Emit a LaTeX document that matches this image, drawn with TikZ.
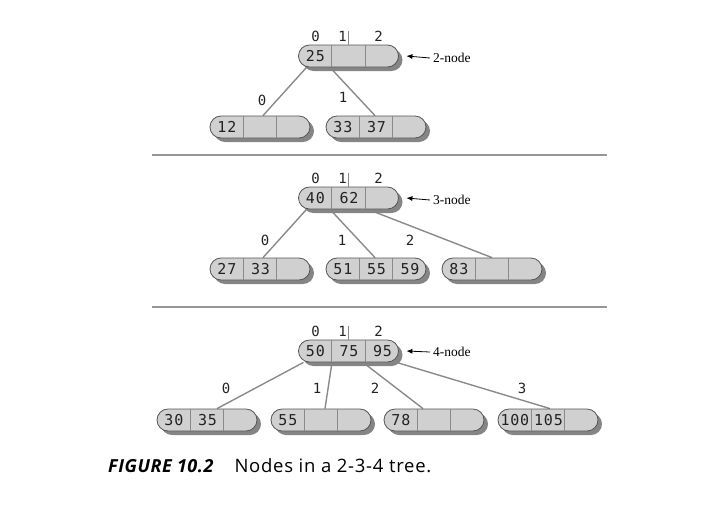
\documentclass[tikz,border=0pt]{standalone}
\usepackage{fontspec}
\setmainfont{Liberation Serif}
\newfontfamily\cellfont[LetterSpace=5]{DejaVu Sans Mono}
\newfontfamily\capfont[LetterSpace=4]{Open Sans}
\newfontfamily\capboldfont[LetterSpace=3]{Open Sans}
\usetikzlibrary{calc,shadows,backgrounds,arrows.meta}
\definecolor{nodefill}{HTML}{D0D0D0}
\definecolor{nodeline}{HTML}{555555}
\definecolor{shadowc}{HTML}{858585}
\definecolor{edgec}{HTML}{8A8A8A}
\definecolor{txt}{HTML}{222222}
\tikzset{
  tnode/.style={draw=nodeline, line width=0.8pt, fill=nodefill, rounded corners=11pt,
    minimum width=100pt, minimum height=22pt, inner sep=0pt,
    drop shadow={shadow xshift=4pt, shadow yshift=-4pt, fill=shadowc, opacity=1}},
  divider/.style={draw=edgec, line width=0.8pt},
  celltext/.style={font=\cellfont\fontsize{15}{17}\selectfont, text=txt, inner sep=0pt},
  idxtext/.style={font=\cellfont\fontsize{14}{16}\selectfont, text=txt, inner sep=0pt},
  edge/.style={draw=edgec, line width=1.4pt},
  rule/.style={draw=edgec!90, line width=1.5pt},
  kindlabel/.style={font=\fontsize{13.5}{15}\selectfont, text=black, anchor=west, inner sep=3pt},
  kindarrow/.style={draw=black, line width=0.8pt, -{Latex[length=6pt,width=5pt]}},
}
\newcommand\ttnode[6]{%
  \node[tnode] (#1) at (#2,#3) {};
  \draw[divider] ($(#1.north west)!1/3!(#1.north east)$) -- ($(#1.south west)!1/3!(#1.south east)$);
  \draw[divider] ($(#1.north west)!2/3!(#1.north east)$) -- ($(#1.south west)!2/3!(#1.south east)$);
  \node[celltext] (#1-a) at ($(#1.west)!1/6!(#1.east)+(0.5pt,0)$) {#4};
  \node[celltext] (#1-b) at ($(#1.west)!1/2!(#1.east)+(0.5pt,0)$) {#5};
  \node[celltext] (#1-c) at ($(#1.west)!5/6!(#1.east)+(0.5pt,0)$) {#6};
}
\newcommand\rootidx[1]{%
  \node[idxtext] (#1-i0) at ([xshift=-33pt,yshift=8pt]#1.north) {0};
  \node[idxtext] (#1-i1) at ([xshift=-6pt,yshift=8pt]#1.north) {1};
  \node[idxtext] (#1-i2) at ([xshift=30pt,yshift=8pt]#1.north) {2};
  \coordinate (#1-top) at ([yshift=14pt]#1.north);
  \draw[divider] (#1-top) -- (#1.north);
}
\begin{document}
\begin{tikzpicture}[x=1pt,y=-1pt]
\useasboundingbox (0,0) rectangle (723,515);
% ---------- section 1 ----------
\ttnode{r1}{348.5}{56}{25}{}{}
\rootidx{r1}
\ttnode{c1a}{260}{127}{12}{}{}
\ttnode{c1b}{376}{127}{33}{37}{}
\begin{scope}[on background layer]
  \draw[edge] ([xshift=-42pt]r1.south) -- ([xshift=3pt]c1a.north);
  \draw[edge] ([xshift=-18.5pt]r1.south) -- ([xshift=-1pt]c1b.north);
\end{scope}
\node[idxtext] (e1a) at (262,100) {0};
\node[idxtext] (e1b) at (343,97) {1};
\node[kindlabel] (k1) at (430,58) {2-node};
\draw[kindarrow] (k1.west) -- ([xshift=7.5pt]r1.east);
% rule
\coordinate (h1l) at (152,155);
\coordinate (h1r) at (607,155);
\draw[rule] (h1l) -- (h1r);
% ---------- section 2 ----------
\ttnode{r2}{348.5}{198}{40}{62}{}
\rootidx{r2}
\ttnode{c2a}{260}{269}{27}{33}{}
\ttnode{c2b}{376}{269}{51}{55}{59}
\ttnode{c2c}{492}{269}{83}{}{}
\begin{scope}[on background layer]
  \draw[edge] ([xshift=-42pt]r2.south) -- ([xshift=3pt]c2a.north);
  \draw[edge] ([xshift=-18.5pt]r2.south) -- ([xshift=-1pt]c2b.north);
  \draw[edge] ([xshift=19.5pt]r2.south) -- (c2c.north);
\end{scope}
\node[idxtext] (e2a) at (265,240) {0};
\node[idxtext] (e2b) at (342,240) {1};
\node[idxtext] (e2c) at (410,240) {2};
\node[kindlabel] (k2) at (430,200) {3-node};
\draw[kindarrow] (k2.west) -- ([xshift=7.5pt]r2.east);
\coordinate (h2l) at (152,307);
\coordinate (h2r) at (607,307);
\draw[rule] (h2l) -- (h2r);
% ---------- section 3 ----------
\ttnode{r3}{348.5}{351}{50}{75}{95}
\rootidx{r3}
\ttnode{c3a}{207}{420}{30}{35}{}
\ttnode{c3b}{321}{420}{55}{}{}
\ttnode{c3c}{434}{420}{78}{}{}
\ttnode{c3d}{548}{420}{100}{105}{}
\begin{scope}[on background layer]
  \draw[edge] ([xshift=-45pt]r3.south) -- ([xshift=10pt]c3a.north);
  \draw[edge] ([xshift=-16.5pt]r3.south) -- ([xshift=4pt]c3b.north);
  \draw[edge] ([xshift=14.5pt]r3.south) -- ([xshift=-11pt]c3c.north);
  \draw[edge] ([xshift=48pt]r3.south) -- ([xshift=2pt]c3d.north);
\end{scope}
\node[idxtext] (e3a) at (226,388) {0};
\node[idxtext] (e3b) at (317,388) {1};
\node[idxtext] (e3c) at (375,388) {2};
\node[idxtext] (e3d) at (522,388) {3};
\node[kindlabel] (k3) at (430,352) {4-node};
\draw[kindarrow] (k3.west) -- ([xshift=7.5pt]r3.east);
% ---------- caption ----------
\node[anchor=base west, inner sep=0pt, font=\fontsize{18}{20}\selectfont] (cap) at (108,472)
  {{\capboldfont\bfseries\itshape FIGURE 10.2}\hspace{21pt}{\capfont\fontsize{18.5}{20}\selectfont Nodes in a 2-3-4 tree.}};
\end{tikzpicture}
\end{document}
